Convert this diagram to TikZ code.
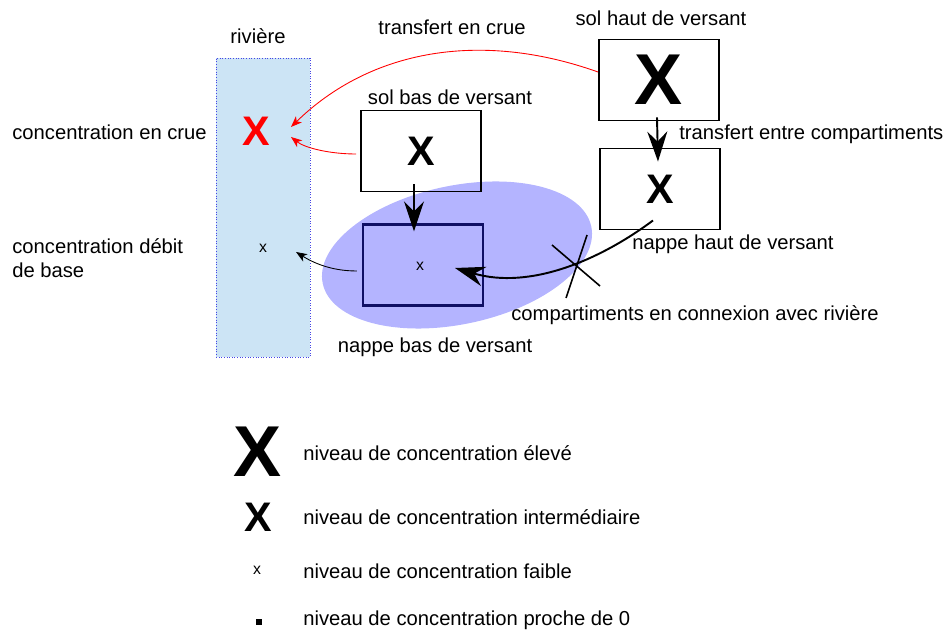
\documentclass[tikz,border=0pt]{standalone}
\usepackage{fontspec}
\setmainfont{Liberation Sans}
\usetikzlibrary{arrows.meta,shapes.geometric}
\definecolor{riverfill}{RGB}{204,228,245}
\definecolor{riverline}{RGB}{70,70,230}
\definecolor{aquiferfill}{RGB}{180,180,255}
\definecolor{navyline}{RGB}{15,15,100}
\tikzset{
  box/.style={draw=black, line width=1.1pt, minimum width=2.4cm, minimum height=1.62cm, inner sep=0pt},
  navybox/.style={box, draw=navyline, line width=1.3pt},
  txt/.style={font=\fontsize{11.5}{13.6}\selectfont, inner sep=0pt, align=left},
  bigx/.style={font=\fontsize{41}{41}\selectfont\bfseries, inner sep=0pt},
  midx/.style={font=\fontsize{23.5}{23.5}\selectfont\bfseries, inner sep=0pt},
  smallx/.style={font=\fontsize{9}{9}\selectfont, inner sep=0pt},
  arrow/.style={-{Stealth[length=6mm,width=4mm,inset=2mm]}, line width=1.1pt},
  thinarrow/.style={-{Stealth[length=2.2mm,width=1.7mm,inset=0.6mm]}, line width=0.5pt},
  redarrow/.style={thinarrow, red}
}
\begin{document}
\begin{tikzpicture}[x=0.2mm, y=-0.2mm]
\useasboundingbox (0,0) rectangle (946,632);
% riviere
\node[draw=riverline, densely dotted, line width=0.5pt, fill=riverfill, minimum width=1.88cm, minimum height=5.98cm, inner sep=0pt] (river) at (263,207.5) {};
\node[txt] (rivtitle) at (258,36) {rivière};
\node[midx, text=red] (rivcrue) at (256,131) {X};
\node[smallx] (rivbase) at (263,248) {x};
\coordinate (crueA) at (291,127);
\coordinate (crueB) at (291,137);
\coordinate (baseA) at (296,252);
\node[txt, anchor=west] (lblcrue) at (12,132) {concentration en crue};
\node[txt, anchor=west] (lblbase) at (12,258) {concentration débit\\de base};
% zone en connexion
\node[ellipse, fill=aquiferfill, minimum width=5.49cm, minimum height=2.77cm, inner sep=0pt, outer sep=0pt, rotate=12] (zone) at (457,255) {};
% compartiments
\node[box] (solhaut) at (659,80) {};
\node[bigx] at (solhaut.center) {X};
\node[txt] at (661,18) {sol haut de versant};
\node[box] (nappehaut) at (660,189) {};
\node[midx] at (nappehaut.center) {X};
\node[txt] at (733,244) {nappe haut de versant};
\node[box] (solbas) at (421,151) {};
\node[midx] at (solbas.center) {X};
\node[txt] at (450,97) {sol bas de versant};
\node[navybox] (nappebas) at (423,265) {};
\node[smallx] at (420,266) {x};
\node[txt] at (435,347) {nappe bas de versant};
\node[txt] at (452,27) {transfert en crue};
\node[txt, anchor=west] at (679,134) {transfert entre compartiments};
\node[txt, anchor=west] at (511,315) {compartiments en connexion avec rivière};
% transferts
\draw[arrow] ([shift={(-2,-4)}]solhaut.south) -- ([shift={(-2,14)}]nappehaut.north);
\draw[arrow] ([shift={(-7,-8)}]solbas.south) -- ([shift={(-9,8)}]nappebas.north);
\draw[arrow] ([shift={(-7,-10)}]nappehaut.south) .. controls (600,260) and (530,290) .. ([shift={(32,3)}]nappebas.center);
\draw[line width=0.9pt] (552,245) -- (600,286);
\draw[line width=0.9pt] (587,235) -- (566,298);
\draw[redarrow] ([shift={(0,-8)}]solhaut.west) .. controls (480,30) and (370,50) .. (crueA);
\draw[redarrow] ([shift={(-4,3)}]solbas.west) .. controls (330,154) and (305,148) .. (crueB);
\draw[thinarrow] ([shift={(-5,6)}]nappebas.west) .. controls (330,271) and (312,262) .. (baseA);
% legende
\node[bigx] (legbig) at (258,452) {X};
\node[txt, anchor=west] at (303,453) {niveau de concentration élevé};
\node[midx] (legmid) at (258,517) {X};
\node[txt, anchor=west] at (303,517) {niveau de concentration intermédiaire};
\node[smallx] (legsmall) at (257,570) {x};
\node[txt, anchor=west] at (303,571) {niveau de concentration faible};
\node[fill=black, minimum size=1.2mm, inner sep=0pt] (legzero) at (259,622) {};
\node[txt, anchor=west] at (303,620) {niveau de concentration proche de 0};
\end{tikzpicture}
\end{document}
